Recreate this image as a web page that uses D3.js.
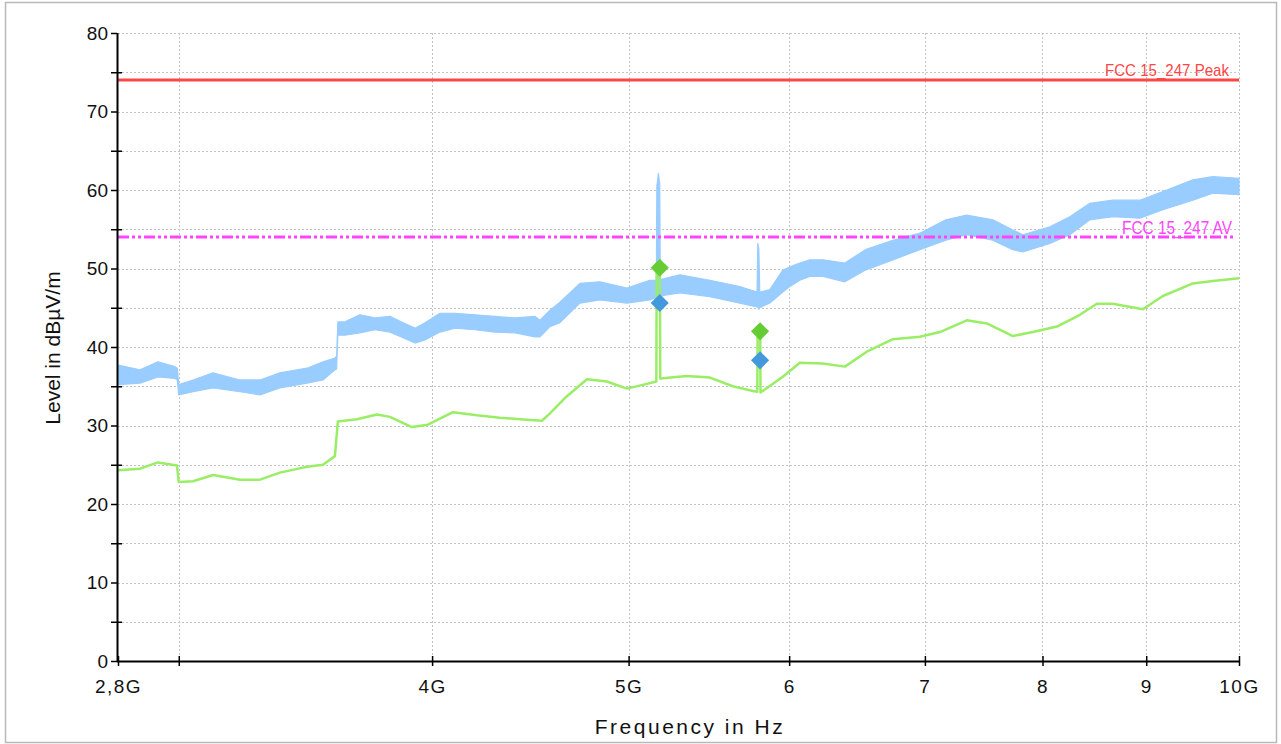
<!DOCTYPE html>
<html>
<head>
<meta charset="utf-8">
<script src="https://cdn.jsdelivr.net/npm/d3@7"></script>
<style>
  html, body { margin: 0; padding: 0; background: #fff; }
  svg { display: block; font-family: "Liberation Sans", Arial, sans-serif; }
</style>
</head>
<body>
<svg id="chart" width="1281" height="744"></svg>
<script>
// Frequency axis (GHz) and level axis (dBµV/m)
const xTickFreqs  = [2.8, 3, 4, 5, 6, 7, 8, 9, 10];
const xTickLabels = ["2,8G", "", "4G", "5G", "6", "7", "8", "9", "10G"];
const xGridFreqs  = [3, 4, 5, 6, 7, 8, 9, 10];
const yTicks      = [0, 5, 10, 15, 20, 25, 30, 35, 40, 45, 50, 55, 60, 65, 70, 75, 80];

// Limit lines
const limitPeak = 74;
const limitAV   = 54;
const limitPeakLabel = "FCC 15_247 Peak";
const limitAVLabel   = "FCC 15_247 AV";

// Peak detector trace: envelope of the sweep (frequency GHz, low dB, high dB)
const peakFreq = [2.800, 2.871, 2.930, 2.987, 2.995, 3.000, 3.049, 3.119, 3.216, 3.290,
  3.365, 3.470, 3.534, 3.582, 3.589, 3.594, 3.623, 3.685, 3.749, 3.813,
  3.878, 3.923, 3.968, 4.036, 4.105, 4.199, 4.296, 4.395, 4.496, 4.521,
  4.573, 4.625, 4.731, 4.840, 4.990, 5.122, 5.160, 5.163, 5.172, 5.180,
  5.183, 5.300, 5.484, 5.673, 5.785, 5.790, 5.797, 5.803, 5.870, 5.957,
  6.005, 6.073, 6.143, 6.234, 6.392, 6.543, 6.750, 6.960, 7.168, 7.341,
  7.561, 7.735, 7.823, 8.067, 8.252, 8.442, 8.665, 8.935, 9.172, 9.490,
  9.707, 10.0];
const peakLow = [35.2, 35.4, 36.2, 36.0, 35.8, 33.9, 34.3, 34.8, 34.3, 33.9,
  34.8, 35.4, 35.8, 37.1, 37.2, 41.5, 41.5, 41.8, 42.2, 41.9,
  41.1, 40.5, 40.9, 41.9, 42.4, 42.2, 41.9, 41.8, 41.3, 41.3,
  42.6, 43.1, 45.6, 46.0, 45.6, 46.0, 46.3, 46.3, 46.3, 46.3,
  46.5, 46.9, 46.4, 45.6, 45.1, 45.1, 44.8, 45.0, 45.6, 47.0,
  47.7, 48.5, 49.0, 49.0, 48.3, 49.8, 51.1, 52.4, 53.6, 54.3,
  53.6, 52.4, 52.1, 53.2, 54.3, 56.2, 56.6, 56.4, 57.5, 58.7,
  59.6, 59.4];
const peakHigh = [37.7, 37.1, 38.1, 37.5, 37.3, 35.2, 35.8, 36.7, 35.8, 35.8,
  36.7, 37.3, 38.1, 38.6, 38.8, 43.2, 43.2, 44.1, 43.7, 43.9,
  43.0, 42.4, 43.1, 44.3, 44.3, 44.1, 43.9, 43.7, 43.9, 43.4,
  44.7, 45.7, 48.1, 48.3, 47.5, 48.5, 48.5, 60.5, 62.1, 60.8,
  48.6, 49.2, 48.5, 47.7, 47.0, 53.2, 52.5, 47.0, 47.3, 49.8,
  50.2, 50.7, 51.1, 51.1, 50.7, 52.4, 53.6, 54.5, 56.2, 56.8,
  56.2, 54.9, 54.3, 55.3, 56.6, 58.3, 58.7, 58.7, 59.8, 61.3,
  61.7, 61.5];

// Average detector trace (frequency GHz, level dB)
const avgFreq = [2.800, 2.871, 2.930, 2.994, 3.000, 3.049, 3.119, 3.216, 3.290, 3.365,
  3.470, 3.534, 3.582, 3.594, 3.673, 3.757, 3.813, 3.909, 3.981, 4.096,
  4.209, 4.320, 4.420, 4.531, 4.573, 4.651, 4.769, 4.878, 4.990, 5.105,
  5.160, 5.162, 5.181, 5.183, 5.342, 5.484, 5.628, 5.758, 5.787, 5.789,
  5.806, 5.808, 5.957, 6.073, 6.234, 6.392, 6.553, 6.750, 6.960, 7.120,
  7.341, 7.510, 7.735, 7.913, 8.132, 8.347, 8.509, 8.665, 8.966, 9.172,
  9.490, 9.707, 10.0];
const avgLevel = [24.3, 24.5, 25.3, 24.9, 22.8, 22.9, 23.7, 23.1, 23.1, 24.0,
  24.75, 25.0, 26.1, 30.5, 30.8, 31.4, 31.1, 29.8, 30.1, 31.7,
  31.3, 31.0, 30.8, 30.6, 31.55, 33.5, 35.9, 35.6, 34.7, 35.3,
  35.6, 50.1, 50.1, 36.0, 36.3, 36.1, 35.0, 34.4, 34.3, 42.0,
  42.0, 34.2, 36.2, 38.0, 37.9, 37.5, 39.4, 41.0, 41.3, 41.9,
  43.4, 43.0, 41.4, 41.9, 42.6, 44.1, 45.5, 45.5, 44.8, 46.5,
  48.1, 48.4, 48.75];

// Final measurement markers
const markerFreq   = [5.180, 5.805];
const markerPeak   = [45.6, 38.3];
const markerAvg    = [50.1, 42.0];

const svg = d3.select("#chart");
const plot = { left: 118, right: 1239, top: 33, bottom: 661 };

const x = d3.scaleLog().domain([2.8, 10]).range([plot.left, plot.right]);
const y = d3.scaleLinear().domain([0, 80]).range([plot.bottom, plot.top]);

// outer frame
svg.append("rect")
  .attr("x", 5.5).attr("y", 2.5).attr("width", 1271).attr("height", 740)
  .attr("fill", "#fff").attr("stroke", "#b9b9b9").attr("stroke-width", 1.5);

// grid
const grid = svg.append("g").attr("stroke", "#c4c4c4").attr("stroke-width", 1)
  .attr("stroke-dasharray", "2,2");
grid.selectAll("line.h").data(yTicks.filter(v => v > 0)).join("line")
  .attr("x1", plot.left).attr("x2", plot.right)
  .attr("y1", d => Math.round(y(d)) + 0.5).attr("y2", d => Math.round(y(d)) + 0.5);
grid.selectAll("line.v").data(xGridFreqs).join("line")
  .attr("x1", d => Math.round(x(d)) + 0.5).attr("x2", d => Math.round(x(d)) + 0.5)
  .attr("y1", plot.top).attr("y2", plot.bottom);

// peak trace band
const band = d3.area()
  .x((d, i) => x(peakFreq[i]))
  .y0((d, i) => y(peakLow[i]))
  .y1((d, i) => y(peakHigh[i]));
svg.append("path")
  .attr("d", band(peakFreq))
  .attr("fill", "#99ccff").attr("stroke", "#99ccff").attr("stroke-width", 1.2)
  .attr("stroke-linejoin", "round");

// average trace
const line = d3.line()
  .x((d, i) => x(avgFreq[i]))
  .y((d, i) => y(avgLevel[i]));
svg.append("path")
  .attr("d", line(avgFreq))
  .attr("fill", "none").attr("stroke", "#99ee66").attr("stroke-width", 2.5)
  .attr("stroke-linejoin", "round");

// limit lines
svg.append("line")
  .attr("x1", plot.left).attr("x2", plot.right)
  .attr("y1", y(limitPeak)).attr("y2", y(limitPeak))
  .attr("stroke", "#ff4646").attr("stroke-width", 3);
svg.append("line")
  .attr("x1", plot.left).attr("x2", plot.right - 5)
  .attr("y1", y(limitAV)).attr("y2", y(limitAV))
  .attr("stroke", "#ff44ff").attr("stroke-width", 3)
  .attr("stroke-dasharray", "11,3,3,3,3,3");

svg.append("text")
  .attr("x", 1105).attr("y", y(limitPeak) - 4)
  .attr("textLength", 124).attr("lengthAdjust", "spacingAndGlyphs")
  .attr("font-size", 17).attr("fill", "#ff4646")
  .text(limitPeakLabel);
svg.append("text")
  .attr("x", 1122).attr("y", y(limitAV) - 3)
  .attr("textLength", 110).attr("lengthAdjust", "spacingAndGlyphs")
  .attr("font-size", 18).attr("fill", "#ff44ff")
  .text(limitAVLabel);

// markers
const diamond = d3.symbol().type(d3.symbolSquare).size(165);
function drawMarkers(levels, color) {
  svg.append("g").selectAll("path").data(levels).join("path")
    .attr("d", diamond)
    .attr("transform", (d, i) => `translate(${x(markerFreq[i])},${y(d)}) rotate(45)`)
    .attr("fill", color);
}
drawMarkers(markerAvg, "#66cc33");
drawMarkers(markerPeak, "#4499dd");

// axes
const axisColor = "#000";
const xAxis = svg.append("g")
  .attr("transform", `translate(0,${plot.bottom})`)
  .call(d3.axisBottom(x).tickValues(xTickFreqs)
    .tickFormat((d, i) => xTickLabels[i]).tickSize(5).tickPadding(14));
xAxis.select(".domain").attr("d", `M${plot.left - 1},0.5H${plot.right}`)
  .attr("stroke", axisColor).attr("stroke-width", 2);
xAxis.selectAll(".tick line").attr("y1", -5).attr("y2", 5)
  .attr("stroke", axisColor).attr("stroke-width", 1.5);
xAxis.selectAll(".tick text")
  .attr("font-size", 19).attr("fill", "#111").attr("letter-spacing", "1.5px")
  .attr("font-family", "Liberation Sans, Arial, sans-serif");

const yAxis = svg.append("g")
  .attr("transform", `translate(${plot.left - 1},0)`)
  .call(d3.axisLeft(y).tickValues(yTicks)
    .tickFormat(d => d % 10 === 0 ? d : "").tickSize(6).tickPadding(3));
yAxis.select(".domain").attr("d", `M0.5,${plot.top}V${plot.bottom + 1}`)
  .attr("stroke", axisColor).attr("stroke-width", 2);
yAxis.selectAll(".tick line")
  .attr("x1", d => d % 10 === 0 ? 0 : 5)
  .attr("x2", -6)
  .attr("stroke", axisColor).attr("stroke-width", 1.5);
yAxis.selectAll(".tick text")
  .attr("font-size", 19).attr("fill", "#111")
  .attr("font-family", "Liberation Sans, Arial, sans-serif");

// axis titles
svg.append("text")
  .attr("transform", `translate(60,348) rotate(-90)`)
  .attr("text-anchor", "middle").attr("font-size", 21).attr("fill", "#111")
  .text("Level in dBµV/m");
svg.append("text")
  .attr("x", 690).attr("y", 734)
  .attr("text-anchor", "middle").attr("font-size", 21).attr("fill", "#111")
  .attr("letter-spacing", "2.5px")
  .text("Frequency in Hz");
</script>
</body>
</html>
